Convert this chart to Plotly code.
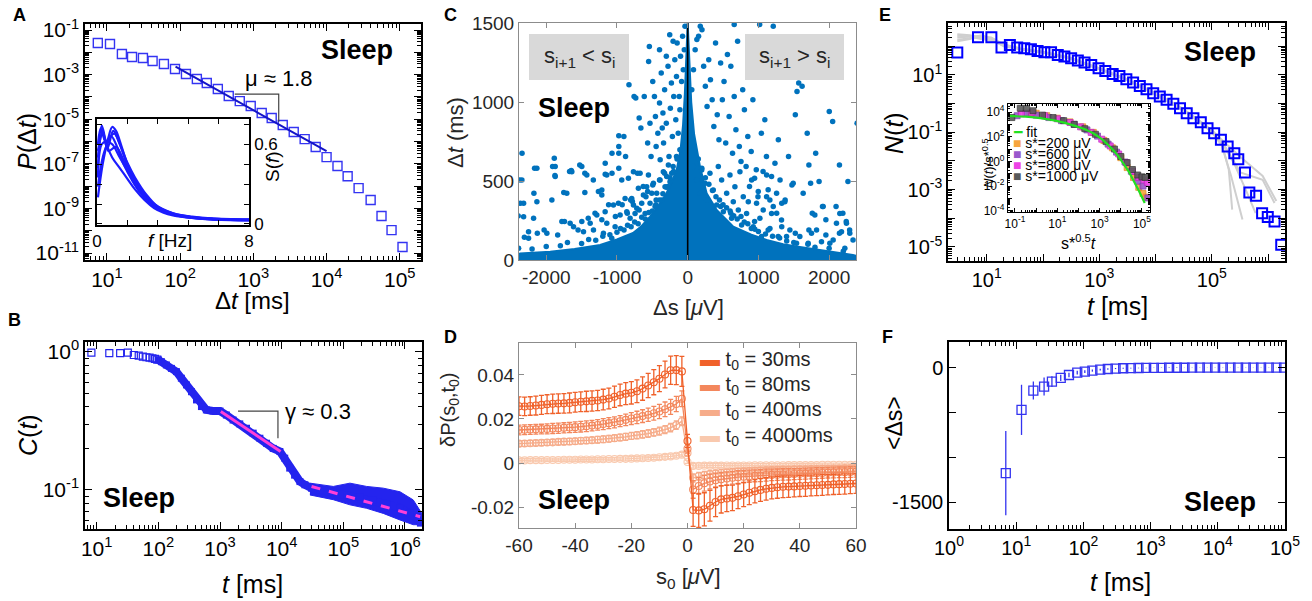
import plotly.graph_objects as go

W, H = 1312, 601
FONT = "Liberation Sans, Arial, Helvetica, DejaVu Sans, sans-serif"


def X(px):
    return px / W


def Y(py):
    return 1 - py / H

# ---------------- Panel A ----------------
a_dt = [7.5, 11, 16, 22, 31, 42, 60, 85, 120, 169, 231, 327, 461, 652, 920, 1300, 1780, 2520,
        3560, 5020, 7100, 10000, 14100, 19400, 27400, 40000, 56300, 77200, 109000]
a_p = [2.61e-2, 2.36e-2, 8.4e-3, 6.15e-3, 5.55e-3, 4.07e-3, 2.99e-3, 1.78e-3, 1.06e-3, 6.35e-4,
       4.2e-4, 2.26e-4, 1.1e-4, 6.5e-5, 3.9e-5, 1.9e-5, 1.13e-5, 5.5e-6, 2.67e-6, 1.29e-6, 5.7e-7,
       2.0e-7, 8.0e-8, 2.8e-8, 8.2e-9, 2.4e-9, 4.6e-10, 1.07e-10, 1.86e-11]
a_fit_dt = [86.5, 10000]
a_fit_p = [2.26e-3, 3.75e-7]
a_tri_dt = [557, 2220, 2220]
a_tri_p = [1.35e-4, 1.35e-4, 7.8e-6]

# inset spectra S(f)
sf_f = [
    [0.05, 0.25, 0.5, 0.8, 1.2, 1.6, 2.0, 2.5, 3.0, 3.5, 4.0, 5.0, 6.0, 7.0, 8.0],
    [0.05, 0.3, 0.6, 0.8, 1.0, 1.3, 1.6, 2.0, 2.5, 3.0, 3.5, 4.0, 5.0, 6.0, 7.0, 8.0],
    [0.05, 0.2, 0.45, 0.75, 1.0, 1.4, 1.8, 2.3, 3.0, 4.0, 5.0, 6.0, 8.0],
    [0.05, 0.3, 0.55, 0.85, 1.1, 1.5, 2.0, 2.5, 3.0, 4.0, 5.0, 6.0, 8.0],
    [0.05, 0.25, 0.5, 0.8, 1.2, 1.6, 2.0, 2.5, 3.0, 4.0, 5.0, 6.0, 8.0],
    [0.05, 0.3, 0.6, 1.0, 1.4, 1.8, 2.3, 3.0, 4.0, 5.0, 6.0, 8.0],
    [0.05, 0.4, 0.9, 1.2, 1.6, 2.0, 2.6, 3.2, 4.0, 5.0, 6.0, 8.0],
]
sf_s = [
    [0.42, 0.74, 0.60, 0.50, 0.42, 0.34, 0.26, 0.18, 0.12, 0.085, 0.065, 0.045, 0.035, 0.030, 0.028],
    [0.20, 0.45, 0.65, 0.73, 0.70, 0.58, 0.45, 0.33, 0.22, 0.14, 0.10, 0.075, 0.050, 0.040, 0.033, 0.030],
    [0.60, 0.72, 0.62, 0.66, 0.60, 0.45, 0.34, 0.23, 0.13, 0.070, 0.048, 0.036, 0.028],
    [0.55, 0.68, 0.57, 0.70, 0.64, 0.48, 0.32, 0.21, 0.14, 0.075, 0.050, 0.038, 0.030],
    [0.35, 0.60, 0.62, 0.60, 0.50, 0.40, 0.30, 0.20, 0.13, 0.070, 0.046, 0.035, 0.027],
    [0.50, 0.70, 0.55, 0.58, 0.48, 0.36, 0.25, 0.15, 0.080, 0.052, 0.040, 0.032],
    [0.28, 0.55, 0.68, 0.60, 0.46, 0.35, 0.22, 0.13, 0.080, 0.055, 0.042, 0.034],
]

# ---------------- Panel B ----------------
b_t_early = [8.2, 16, 24, 32, 40, 48, 56, 64, 72, 80, 88, 96]
b_c_early = [0.99, 0.98, 0.98, 0.99, 0.95, 0.94, 0.925, 0.915, 0.91, 0.90, 0.89, 0.88]
b_t = [100, 112, 135, 163, 196, 236, 286, 345, 415, 500, 600, 770, 1000, 1270, 1630, 2090, 2690,
       3450, 4430, 5680, 7290, 9350, 11200, 13500, 16200, 19800, 23800, 30500, 41500, 68700,
       113000, 186000, 307000, 505000, 835000, 1200000, 1550000, 1780000]
b_c = [0.875, 0.85, 0.805, 0.76, 0.72, 0.645, 0.577, 0.515, 0.449, 0.402, 0.38, 0.373, 0.373,
       0.349, 0.321, 0.301, 0.28, 0.258, 0.237, 0.218, 0.20, 0.19, 0.17, 0.144, 0.128, 0.115,
       0.109, 0.103, 0.10, 0.096, 0.092, 0.0885, 0.0847, 0.079, 0.074, 0.068, 0.0624, 0.0575]
b_band_t = [28700, 68700, 128000, 239000, 445000, 830000, 1360000, 1860000,
            1860000, 1360000, 830000, 445000, 239000, 128000, 68700, 28700]
b_band_c = [0.112, 0.106, 0.112, 0.106, 0.103, 0.097, 0.0847, 0.068,
            0.056, 0.056, 0.0606, 0.0676, 0.0736, 0.078, 0.085, 0.092]
b_fit1_t = [1030, 9600]
b_fit1_c = [0.37, 0.19]
b_fit2_t = [30500, 1760000]
b_fit2_c = [0.106, 0.064]
b_tri_t = [1960, 8700, 8700]
b_tri_c = [0.373, 0.373, 0.237]

# ---------------- Panel C ----------------
c_env_ds = [-2400, -2400, -2368, -1944, -1600, -1238, -1000, -772, -650, -532, -420, -297, -220,
            -155, -100, -66, -40, -20, -8, 0, 10, 25, 50, 90, 130, 174, 268, 410, 645, 900, 1116,
            1350, 1586, 2054, 2336, 2400, 2400]
c_env_dt = [0, 30, 42, 53, 70, 95, 130, 171, 215, 274, 340, 424, 500, 570, 700, 850, 1050, 1250,
            1420, 1500, 1400, 1250, 1000, 800, 700, 590, 422, 316, 211, 160, 127, 100, 82, 53, 32,
            25, 0]
# sparse outliers
c_ds = [-2342, -2376, -2395, -2366, -2390, -2309, -2174, -2165, -1886, -1877, -1910, -1752, -1670,
        -1646, -1526, -1454, -1454, -1334, -1262, -1166, -1166, -1070, -1070, -974, -974, -974,
        -974, -902, -878, -830, -806, -758, -734, -710, -686, -662, -614, -590, -566, -552, -542,
        -533, -518, -494, -470, -456, -446, -422, -398, -398, -389, -374, -360, -350, -341, -326,
        -302, -302, -278, -264, -254, -245, -230, -216, -206, -197, -182, -168, -158, -149, -134,
        -120, -110, -101, -86, -72, -62, -48, -38,
        -2126, -2030, -1838, -1742, -1550, -1406, -1310, -1214, -1118, -1022, -926, -854, -782,
        -686, -629, -566, -494, -446, -398, -326, -278, -206, -158, -110,
        58, 82, 106, 130, 154, 178, 202, 226, 250, 274, 298, 322, 346, 370, 394, 418, 442, 466,
        490, 514, 538, 562, 586, 610, 634, 658, 658, 682, 706, 730, 754, 778, 802, 826, 850, 874,
        898, 922, 946, 970, 994, 1018, 1042, 1066, 1090, 1114, 1138, 1162, 1186, 1210, 1234, 1258,
        1282, 1306, 1330, 1378, 1426, 1474, 1522, 1546, 1570, 1618, 1690, 1714, 1738, 1762, 1810,
        1858, 1906, 1954, 2002, 2050, 2098, 2146, 2194, 2242, 2266, 2290, 2395,
        466, 610, 754, 946, 1138, 1330, 1522, 1714, 1954, 2146, 2338]
c_dt = [676, 507, 279, 359, 74, 144, 423, 581, 644, 535, 592, 427, 560, 566, 602, 549, 427, 507,
        433, 543, 613, 676, 549, 581, 676, 718, 786, 782, 655, 1109, 380, 1035, 1025, 549, 898,
        835, 1035, 401, 740, 1257, 1352, 866, 655, 1130, 1035, 909, 718, 803, 1331, 993, 634, 1183,
        835, 930, 740, 1078, 866, 1289, 1226, 655, 1426, 961, 1120, 782, 1384, 1035, 1268, 887,
        1162, 1373, 803, 1035, 951, 1289, 1130, 1416, 1204, 1331, 1479,
        169, 190, 158, 243, 190, 264, 296, 254, 349, 275, 349, 296, 370, 317, 465, 433, 475, 380,
        507, 549, 465, 592, 655, 697,
        1078, 1204, 1331, 1395, 1416, 1479, 1458, 1226, 1099, 972, 1268, 1141, 1014, 845, 1373,
        919, 761, 1247, 1014, 1130, 740, 1300, 909, 1226, 676, 1490, 1035, 824, 1384, 718, 623,
        1078, 951, 592, 782, 465, 687, 1014, 518, 571, 401, 1490, 803, 560, 887, 655, 444, 380,
        528, 1479, 613, 296, 761, 507, 359, 380, 655, 475, 919, 1067, 1120, 1099, 803, 602, 486,
        296, 676, 497, 338, 254, 940, 877, 338, 602, 296, 243, 497, 190, 866,
        338, 296, 275, 243, 190, 211, 169, 190, 158, 169, 127]
# medium-density zone
c_ds_mid = [-2344, -2320, -2320, -2250, -2250, -2179, -2132, -2132, -1991, -1920, -1873, -1873,
            -1779, -1709, -1662, -1638, -1614, -1497, -1497, -1473, -1426, -1379, -1332, -1285,
            -1214, -1214, -1191, -1167, -1144, -1144, -1073, -1050, -1026, -979, -955, -932, -885,
            -861, -838, -814, -791, -767, -767, -744, -720, -697, -673, -650, -626, -602, -579,
            -555, -532, -508, -485, -461, -438, -391, -367, -344, -320, -297, -273, -250, -226,
            80, 127, 174, 198, 245, 268, 315, 362, 410, 433, 480, 504, 551, 598, 621, 645, 668, 716,
            739, 763, 786, 833, 857, 904, 927, 974, 998, 1021, 1045, 1068, 1116, 1116, 1163, 1186,
            1210, 1257, 1280, 1327, 1374, 1398, 1445, 1492, 1539, 1586, 1633, 1704, 1751, 1798,
            1822, 1892, 1916, 2010, 2057, 2104, 2151, 2175, 2222, 2245, 2292]
c_dt_mid = [506, 359, 274, 179, 137, 264, 580, 369, 169, 380, 591, 528, 243, 422, 232, 559, 211,
            243, 591, 179, 538, 232, 190, 285, 443, 411, 169, 306, 538, 232, 137, 348, 211, 359,
            285, 506, 390, 306, 517, 264, 390, 559, 348, 295, 327, 454, 549, 359, 411, 295, 464,
            538, 359, 422, 485, 338, 422, 506, 380, 559, 464, 528, 601, 496, 549,
            591, 506, 422, 570, 485, 380, 549, 443, 348, 591, 506, 306, 422, 538, 264, 369, 464,
            317, 559, 222, 401, 295, 369, 506, 211, 359, 433, 264, 148, 317, 538, 401, 200, 295,
            338, 422, 148, 253, 369, 148, 190, 485, 106, 148, 422, 106, 169, 285, 190, 116, 338,
            106, 127, 232, 295, 179, 74, 232, 169]
# points just above the dense core
c_ds_edge = [-2200, -2000, -1800, -1700, -1500, -1400, -1300, -1200, -1100, -1000, -950, -900,
             -850, -800, -750, -700, -650, -600, -550, -500, -450, -400, -350, -300, -250, -200,
             -150, 2200, 2000, 1800, 1700, 1500, 1400, 1300, 1200, 1100, 1000, 950, 900, 850, 800,
             700, 650, 600, 550, 500, 450, 400, 350, 300, 250, 200, 150]
c_dt_edge = [70, 85, 90, 110, 105, 130, 125, 150, 160, 175, 200, 190, 220, 210, 240, 230, 270, 260,
             300, 310, 350, 380, 420, 460, 520, 560, 640, 55, 75, 80, 100, 110, 120, 140, 150, 165,
             180, 195, 200, 230, 240, 260, 280, 310, 330, 350, 380, 400, 440, 480, 520, 580, 640]
c_zero_ds = [0, 0]
c_zero_dt = [0, 1500]

# ---------------- Panel D ----------------
d_s0 = [-60, -58, -56, -54, -52, -50, -48, -46, -44, -42, -40, -38, -36, -34, -32, -30, -28, -26,
        -24, -22, -20, -18, -16, -14, -12, -10, -8, -6, -4, -2, 0, 2, 4, 6, 8, 10, 12, 14, 16, 18,
        20, 22, 24, 26, 28, 30, 32, 34, 36, 38, 40, 42, 44, 46, 48, 50, 52, 54, 56, 58, 60]
d_30 = [.0258, .0257, .0259, .0261, .0264, .0267, .0269, .0270, .0271, .0273, .0276, .0278, .0280,
        .0282, .0284, .0288, .0293, .0301, .0309, .0315, .0319, .0326, .0338, .0352, .0367, .0383,
        .0402, .0421, .0422, .0416, .0100, -.0213, -.0215, -.0210, -.0194, -.0177, -.0165, -.0161,
        -.0158, -.0151, -.0143, -.0135, -.0128, -.0122, -.0117, -.0113, -.0110, -.0108, -.0107,
        -.0106, -.0104, -.0103, -.0102, -.0101, -.0100, -.0099, -.0097, -.0096, -.0095, -.0094,
        -.0093]
d_30_err = [.0042, .0042, .0042, .0043, .0043, .0043, .0044, .0044, .0044, .0045, .0045, .0045,
            .0046, .0046, .0046, .0047, .0047, .0048, .0049, .0050, .0051, .0052, .0053, .0055,
            .0057, .0059, .0061, .0064, .0066, .0068, .0030, .0075, .0077, .0075, .0070, .0066,
            .0062, .0060, .0058, .0056, .0055, .0054, .0053, .0052, .0051, .0050, .0050, .0049,
            .0049, .0048, .0048, .0048, .0047, .0047, .0047, .0046, .0046, .0046, .0046, .0045,
            .0045]
d_80 = [.0150, .0151, .0152, .0153, .0154, .0155, .0157, .0158, .0160, .0161, .0163, .0165, .0167,
        .0170, .0173, .0177, .0181, .0185, .0190, .0196, .0202, .0207, .0213, .0219, .0226, .0234,
        .0244, .0255, .0268, .0292, .0065, -.0120, -.0104, -.0092, -.0084, -.0078, -.0074, -.0070,
        -.0067, -.0064, -.0062, -.0060, -.0058, -.0057, -.0055, -.0054, -.0053, -.0052, -.0051,
        -.0050, -.0049, -.0048, -.0047, -.0046, -.0045, -.0044, -.0043, -.0042, -.0042, -.0041,
        -.0040]
d_80_err = [.0022, .0022, .0022, .0022, .0022, .0023, .0023, .0023, .0023, .0023, .0024, .0024,
            .0024, .0024, .0024, .0025, .0025, .0025, .0025, .0026, .0027, .0028, .0029, .0030,
            .0031, .0032, .0033, .0034, .0035, .0036, .0020, .0040, .0038, .0036, .0034, .0032,
            .0031, .0030, .0029, .0029, .0028, .0028, .0027, .0027, .0027, .0026, .0026, .0026,
            .0026, .0025, .0025, .0025, .0025, .0025, .0024, .0024, .0024, .0024, .0024, .0024,
            .0024]
d_400 = [.0088, .0089, .0090, .0091, .0092, .0093, .0094, .0096, .0097, .0098, .0099, .0101, .0102,
         .0104, .0106, .0108, .0110, .0113, .0116, .0119, .0123, .0126, .0130, .0134, .0139, .0145,
         .0152, .0161, .0172, .0190, .0045, -.0068, -.0060, -.0055, -.0051, -.0048, -.0045, -.0043,
         -.0041, -.0039, -.0038, -.0036, -.0035, -.0034, -.0033, -.0032, -.0031, -.0030, -.0030,
         -.0029, -.0028, -.0028, -.0027, -.0027, -.0026, -.0026, -.0025, -.0025, -.0024, -.0024,
         -.0023]
d_400_err = [.0013, .0013, .0013, .0013, .0013, .0013, .0013, .0014, .0014, .0014, .0014, .0014,
             .0014, .0014, .0015, .0015, .0015, .0015, .0015, .0016, .0016, .0016, .0017, .0017,
             .0017, .0018, .0018, .0019, .0019, .0020, .0012, .0019, .0018, .0017, .0017, .0016,
             .0016, .0015, .0015, .0015, .0015, .0014, .0014, .0014, .0014, .0014, .0014, .0013,
             .0013, .0013, .0013, .0013, .0013, .0013, .0013, .0013, .0013, .0013, .0013, .0013,
             .0013]
d_4000 = [.0012, .0012, .0013, .0013, .0013, .0014, .0014, .0014, .0015, .0015, .0015, .0016, .0016,
          .0016, .0017, .0017, .0018, .0018, .0019, .0019, .0020, .0021, .0022, .0023, .0024, .0026,
          .0028, .0030, .0033, .0038, .0005, -.0013, -.0013, -.0012, -.0012, -.0012, -.0012, -.0011,
          -.0011, -.0011, -.0011, -.0011, -.0010, -.0010, -.0010, -.0010, -.0010, -.0010, -.0009,
          -.0009, -.0009, -.0009, -.0009, -.0009, -.0008, -.0008, -.0008, -.0008, -.0008, -.0008,
          -.0008]
d_4000_err = [.0008, .0008, .0008, .0008, .0008, .0008, .0008, .0008, .0008, .0008, .0008, .0008,
              .0008, .0008, .0008, .0008, .0008, .0008, .0008, .0009, .0009, .0009, .0009, .0009,
              .0009, .0009, .0010, .0010, .0010, .0010, .0007, .0010, .0009, .0009, .0009, .0009,
              .0009, .0008, .0008, .0008, .0008, .0008, .0008, .0008, .0008, .0008, .0008, .0008,
              .0008, .0008, .0008, .0008, .0008, .0008, .0008, .0008, .0008, .0008, .0008, .0008,
              .0008]
d_labels = ["t<sub>0</sub> = 30ms", "t<sub>0</sub> = 80ms", "t<sub>0</sub> = 400ms", "t<sub>0</sub> = 4000ms"]
d_colors = ["#f0612a", "#f3875c", "#f6ac8a", "#f9c9ae"]

# ---------------- Panel E ----------------
e_t = [3.0, 7.0, 12.1, 18.3, 25.8, 34.8, 46.5, 61, 80, 106, 139, 183, 240, 316, 416, 547, 719, 972,
       1280, 1730, 2280, 3030, 3990, 5250, 6900, 9080, 11900, 15700, 20700, 27200, 35800, 47100,
       63700, 83800, 110000, 145000, 191000, 251000, 295000, 388000, 464000, 611000, 782000,
       986000, 1300000, 1710000]
e_n = [60, 204, 204, 89.6, 111, 89.6, 85, 78, 68.5, 61.6, 61.6, 49.8, 43.5, 38.1, 31.6, 26.9, 22.3,
       17.1, 13.8, 10.8, 9.2, 7.06, 5.41, 4.14, 3.17, 2.3, 1.76, 1.35, 0.977, 0.69, 0.462, 0.309,
       0.224, 0.139, 0.0928, 0.0543, 0.0318, 0.0187, 0.0115, 0.00395, 7.95e-4, 6.08e-4, 1.51e-4,
       1.1e-4, 7.76e-5, 1.19e-5]
e_gray_t = [
    [3, 5, 8, 12, 20, 40, 100, 300, 1000, 3000, 10000, 30000, 60000, 100000, 150000, 200000, 230000],
    [3, 5, 8, 12, 20, 40, 100, 300, 1000, 3000, 10000, 30000, 60000, 100000, 150000, 220000, 350000],
    [3, 5, 8, 12, 20, 40, 100, 300, 1000, 3000, 10000, 30000, 60000, 100000, 150000, 320000, 800000, 1300000],
    [3, 5, 8, 12, 20, 40, 100, 300, 1000, 3000, 10000, 30000, 60000, 100000, 150000, 250000, 400000, 600000],
    [3, 5, 8, 12, 20, 40, 100, 300, 1000, 3000, 10000, 30000, 60000, 100000, 150000, 350000, 800000, 1400000],
]
e_gray_n = [
    [260, 240, 200, 150, 110, 80, 62, 39, 16.5, 7.1, 2.2, 0.65, 0.25, 0.11, 0.04, 0.005, 0.0002],
    [200, 210, 230, 180, 100, 78, 60, 37, 16, 6.8, 2.0, 0.6, 0.23, 0.1, 0.035, 0.003, 0.00009],
    [170, 190, 210, 200, 115, 84, 64, 40, 17, 7.3, 2.3, 0.68, 0.26, 0.12, 0.05, 0.004, 0.0022, 0.00034],
    [230, 220, 180, 160, 105, 80, 61, 38, 16.2, 7.0, 2.1, 0.62, 0.24, 0.105, 0.045, 0.008, 0.001, 0.00015],
    [150, 180, 240, 190, 112, 82, 63, 39.5, 16.8, 7.2, 2.25, 0.66, 0.25, 0.115, 0.055, 0.012, 0.003, 0.0004],
]
# inset: scaled N(t)
ei_fit_x = [0.0479, 0.316, 1, 3.16, 13.2, 63.1, 200, 490, 1259, 3020, 6310, 12900, 22400, 38000,
            63100, 95500, 135000]
ei_fit_y = [4790, 4170, 3550, 2630, 1660, 794, 398, 191, 63.1, 15.8, 3.98, 0.724, 0.178, 0.0331,
            0.0063, 0.00148, 0.000427]
ei_x = {
    "200": [0.5, 1, 3.16, 10, 39.8, 158, 501, 1585, 3981, 10000, 20000, 39800, 70800, 112000, 158000],
    "600": [0.126, 0.316, 1, 3.98, 15.8, 63, 251, 794, 2512, 6310, 15850, 31600, 63100, 112000, 190000],
    "800": [0.2, 0.63, 2.51, 10, 39.8, 126, 398, 1259, 3162, 7943, 17800, 35500, 70800, 126000, 178000],
    "1000": [0.0708, 0.178, 0.355, 0.708, 2.0, 6.3, 20, 63, 200, 631, 2000, 5000, 10000, 20000,
             35500, 63000, 100000, 141000],
}
ei_y = {
    "200": [7940, 7940, 5010, 3160, 1585, 631, 224, 50, 12.6, 2.0, 0.316, 0.05, 0.0079, 0.0025, 0.00126],
    "600": [5010, 7940, 5620, 3550, 2000, 1000, 355, 112, 25.1, 5.62, 0.89, 0.158, 0.025, 0.01, 0.0011],
    "800": [7080, 8910, 5010, 2820, 1413, 631, 224, 63, 17.8, 3.98, 0.79, 0.158, 0.05, 0.0316, 0.02],
    "1000": [3550, 20000, 20000, 12600, 5620, 3550, 2000, 1000, 447, 158, 40, 10, 2.5, 0.79, 0.22,
             0.079, 0.056, 0.05],
}
ei_colors = {"200": "#f7a63e", "600": "#9a58cc", "800": "#ee44e6", "1000": "#5a5a5a"}
ei_edges = {"200": "#e08a20", "600": "#7a3aaa", "800": "#c020c0", "1000": "#333333"}

# ---------------- Panel F ----------------
f_t = [7, 12, 18, 26, 34, 46, 61, 81, 105, 136, 178, 231, 301, 391, 508, 661, 859, 1117, 1452, 1888,
       2455, 3192, 4150, 5395, 7015, 9120, 11860, 15420, 20040, 26060, 33880, 44060, 57280, 74470,
       96830]
f_m = [-1176, -471, -256, -211, -156, -115, -82, -56, -45, -33, -22, -15, -10, -7, -5, -4, -3, -2,
       -2, -1, -1, -1, 0, 0, 0, 0, 0, 0, 0, 0, 0, 0, 0, 0, 0]
f_e = [470, 280, 100, 100, 60, 35, 25, 20, 15, 12, 10, 8, 6, 5, 4, 3, 3, 2, 2, 2, 2, 1, 1, 1, 1, 1,
       1, 1, 1, 1, 1, 1, 1, 1, 1]

# =============================================================
fig = go.Figure()

BLUE_A = "#3434f2"
# A main
fig.add_trace(go.Scatter(x=a_dt, y=a_p, mode="markers", xaxis="x", yaxis="y",
                         marker=dict(symbol="square-open", size=9, color=BLUE_A, line=dict(width=1.4))))
fig.add_trace(go.Scatter(x=a_fit_dt, y=a_fit_p, mode="lines", xaxis="x", yaxis="y",
                         line=dict(color="#1414c8", width=2)))
fig.add_trace(go.Scatter(x=a_tri_dt, y=a_tri_p, mode="lines", xaxis="x", yaxis="y",
                         line=dict(color="#444444", width=1.2)))
# A inset
for fx, sy in zip(sf_f, sf_s):
    fig.add_trace(go.Scatter(x=fx, y=sy, mode="lines", xaxis="x2", yaxis="y2",
                             line=dict(color="#1c1cff", width=2.2, shape="spline")))

# B
BLUE_B = "#2424ee"
fig.add_trace(go.Scatter(x=b_band_t, y=b_band_c, mode="lines", fill="toself", fillcolor=BLUE_B,
                         line=dict(width=1, color=BLUE_B), xaxis="x3", yaxis="y3"))
fig.add_trace(go.Scatter(x=b_t, y=b_c, mode="lines+markers", xaxis="x3", yaxis="y3",
                         line=dict(color=BLUE_B, width=8),
                         marker=dict(symbol="square", size=7, color=BLUE_B)))
fig.add_trace(go.Scatter(x=b_t_early, y=b_c_early, mode="markers", xaxis="x3", yaxis="y3",
                         marker=dict(symbol="square-open", size=7, color=BLUE_B, line=dict(width=1.2))))
fig.add_trace(go.Scatter(x=b_fit1_t, y=b_fit1_c, mode="lines", xaxis="x3", yaxis="y3",
                         line=dict(color="#ff3fd8", width=3)))
fig.add_trace(go.Scatter(x=b_fit2_t, y=b_fit2_c, mode="lines", xaxis="x3", yaxis="y3",
                         line=dict(color="#ff3fd8", width=3, dash="dash")))
fig.add_trace(go.Scatter(x=b_tri_t, y=b_tri_c, mode="lines", xaxis="x3", yaxis="y3",
                         line=dict(color="#444444", width=1.2)))

# C
MBLUE = "#0072bd"
fig.add_trace(go.Scatter(x=c_env_ds, y=c_env_dt, mode="lines", fill="toself", fillcolor=MBLUE,
                         line=dict(width=2, color=MBLUE), xaxis="x4", yaxis="y4"))
fig.add_trace(go.Scatter(x=c_ds + c_ds_mid + c_ds_edge, y=c_dt + c_dt_mid + c_dt_edge, mode="markers",
                         xaxis="x4", yaxis="y4", marker=dict(size=5.5, color=MBLUE)))
fig.add_trace(go.Scatter(x=c_zero_ds, y=c_zero_dt, mode="lines", xaxis="x4", yaxis="y4",
                         line=dict(color="black", width=1.6)))

# D
d_series = [(d_4000, d_4000_err, 3), (d_400, d_400_err, 2), (d_80, d_80_err, 1), (d_30, d_30_err, 0)]
for yv, ev, k in d_series:
    fig.add_trace(go.Scatter(x=d_s0, y=yv, mode="lines+markers", xaxis="x5", yaxis="y5",
                             line=dict(color=d_colors[k], width=1.3),
                             marker=dict(symbol="circle-open", size=7, color=d_colors[k], line=dict(width=1.1)),
                             error_y=dict(type="data", array=ev, color=d_colors[k], thickness=1.3, width=2.5)))

# E main
for gt, gn in zip(e_gray_t, e_gray_n):
    fig.add_trace(go.Scatter(x=gt, y=gn, mode="lines", xaxis="x6", yaxis="y6",
                             line=dict(color="#cfcfcf", width=2)))
fig.add_trace(go.Scatter(x=e_t, y=e_n, mode="markers", xaxis="x6", yaxis="y6",
                         marker=dict(symbol="square-open", size=10, color="#0000ff", line=dict(width=2))))
# E inset
for key in ["200", "600", "800", "1000"]:
    fig.add_trace(go.Scatter(x=ei_x[key], y=ei_y[key], mode="markers", xaxis="x7", yaxis="y7",
                             marker=dict(symbol="square", size=6, color=ei_colors[key], opacity=0.9,
                                         line=dict(width=0.8, color=ei_edges[key]))))
fig.add_trace(go.Scatter(x=ei_fit_x, y=ei_fit_y, mode="lines", xaxis="x7", yaxis="y7",
                         line=dict(color="#22e022", width=2.2, shape="spline")))

# F
fig.add_trace(go.Scatter(x=f_t, y=f_m, mode="markers", xaxis="x8", yaxis="y8",
                         marker=dict(symbol="square-open", size=9, color="#3333f0", line=dict(width=1.3)),
                         error_y=dict(type="data", array=f_e, color="#3333f0", thickness=1.3, width=0)))

# =============================================================
def sup(e):
    return "10<sup>%d</sup>" % e


def logaxis(lo_e, hi_e, labeled, rng, dom, anchor, fs=20, tl=7, mtl=4, **kw):
    tv = [10.0 ** e for e in range(lo_e, hi_e + 1)]
    tt = [sup(e) if e in labeled else "" for e in range(lo_e, hi_e + 1)]
    mv = [m * 10.0 ** e for e in range(lo_e - 1, hi_e + 1) for m in range(2, 10)]
    d = dict(type="log", range=rng, domain=dom, anchor=anchor, tickmode="array", tickvals=tv,
             ticktext=tt, showgrid=False, zeroline=False, showline=True, mirror="ticks",
             ticks="inside", linecolor="black", linewidth=1.5, tickcolor="black", tickwidth=1.2,
             ticklen=tl, automargin=False, tickfont=dict(family=FONT, size=fs, color="black"),
             minor=dict(tickmode="array", tickvals=mv, ticks="inside", ticklen=mtl,
                        tickcolor="black", tickwidth=1, showgrid=False))
    d.update(kw)
    return d


def linaxis(rng, dom, anchor, tv, tt, fs=20, color="black", lc="black", lw=1.5, tl=7, **kw):
    d = dict(type="linear", range=rng, domain=dom, anchor=anchor, tickmode="array", tickvals=tv,
             ticktext=tt, showgrid=False, zeroline=False, showline=True, mirror="ticks",
             ticks="inside", linecolor=lc, linewidth=lw, tickcolor=lc, automargin=False,
             tickwidth=1.2, ticklen=tl, tickfont=dict(family=FONT, size=fs, color=color))
    d.update(kw)
    return d


def xd(a, b):
    return [a / W, b / W]


def yd(top, bot):
    return [1 - bot / H, 1 - top / H]


layout = dict(
    width=W, height=H, margin=dict(l=0, r=0, t=0, b=0, pad=0), autosize=False,
    paper_bgcolor="white", plot_bgcolor="white", showlegend=False,
    font=dict(family=FONT, color="black"),
    # A
    xaxis=logaxis(1, 5, [1, 2, 3, 4, 5], [0.70, 5.29], xd(85, 421), "y", fs=21),
    yaxis=logaxis(-11, -1, [-1, -3, -5, -7, -9, -11], [-11.31, -0.73], yd(24, 260), "x", fs=21),
    # A inset
    xaxis2=linaxis([0, 8], xd(97, 249), "y2", [0, 1.6, 3.2, 4.8, 6.4, 8], ["0", "", "", "", "", "8"],
                   fs=17, tl=5),
    yaxis2=linaxis([-0.008, 0.79], yd(119, 225), "x2", [0, 0.15, 0.3, 0.45, 0.6, 0.75],
                   ["0", "", "", "", "0.6", ""], fs=17, tl=5, side="right"),
    # B
    xaxis3=logaxis(1, 6, [1, 2, 3, 4, 5, 6], [0.81, 6.276], xd(85, 422), "y3", fs=21),
    yaxis3=logaxis(-1, 0, [-1, 0], [-1.283, 0.072], yd(342, 529), "x3", fs=21),
    # C
    xaxis4=linaxis([-2385, 2380], xd(519, 856), "y4", [-2000, -1000, 0, 1000, 2000],
                   ["-2000", "-1000", "0", "1000", "2000"], fs=19, color="#262626", lc="#8c8c8c",
                   lw=1, tl=5),
    yaxis4=linaxis([0, 1500], yd(23, 260), "x4", [0, 500, 1000, 1500], ["0", "500", "1000", "1500"],
                   fs=19, color="#262626", lc="#8c8c8c", lw=1, tl=5),
    # D
    xaxis5=linaxis([-60, 60], xd(519, 856), "y5", [-60, -40, -20, 0, 20, 40, 60],
                   ["-60", "-40", "-20", "0", "20", "40", "60"], fs=19, color="#262626",
                   lc="#8c8c8c", lw=1, tl=5),
    yaxis5=linaxis([-0.0295, 0.0545], yd(343, 528), "x5", [-0.02, 0, 0.02, 0.04],
                   ["-0.02", "0", "0.02", "0.04"], fs=19, color="#262626", lc="#8c8c8c", lw=1, tl=5),
    # E
    xaxis6=logaxis(0, 6, [1, 3, 5], [0.312, 6.30], xd(948, 1285), "y6", fs=20),
    yaxis6=logaxis(-5, 2, [1, -1, -3, -5], [-5.49, 2.81], yd(23, 261), "x6", fs=20),
    # E inset
    xaxis7=logaxis(-1, 5, [-1, 1, 3, 5], [-1.33, 5.38], xd(1008, 1150), "y7", fs=12, tl=4, mtl=2,
                   linewidth=1.2),
    yaxis7=logaxis(-4, 4, [-4, -2, 0, 2, 4], [-4.1, 4.65], yd(104, 212), "x7", fs=12, tl=4, mtl=2,
                   linewidth=1.2),
    # F
    xaxis8=logaxis(0, 5, [0, 1, 2, 3, 4, 5], [0, 5], xd(949, 1285), "y8", fs=20),
    yaxis8=linaxis([-1800, 286], yd(342, 529), "x8", [0, -500, -1000, -1500], ["0", "", "", "-1500"],
                   fs=20),
)
fig.update_layout(**layout)

ann = []


def txt(px, py, text, size=22, xa="center", ya="middle", angle=0, color="black", **kw):
    d = dict(x=X(px), y=Y(py), xref="paper", yref="paper", text=text, showarrow=False,
             xanchor=xa, yanchor=ya, textangle=angle,
             font=dict(family=FONT, size=size, color=color))
    d.update(kw)
    ann.append(d)


# panel letters
for L, px, py in [("A", 19, 15), ("B", 14, 320), ("C", 450, 15), ("D", 450, 337), ("E", 885, 15),
                  ("F", 887, 337)]:
    txt(px, py, "<b>%s</b>" % L, size=18)

# axis titles
txt(252, 300, "Δ<i>t</i> [ms]", size=24)
txt(27, 142, "<i>P</i>(Δ<i>t</i>)", size=25, angle=-90)
txt(252, 584, "<i>t</i> [ms]", size=25)
txt(28, 435, "<i>C</i>(<i>t</i>)", size=25, angle=-90)
txt(688, 307, "Δs [<i>μ</i>V]", size=22, color="#262626")
txt(455, 133, "Δ<i>t</i> (ms)", size=22, angle=-90, color="#262626")
txt(688, 578, "s<sub>0</sub> [<i>μ</i>V]", size=22, color="#262626")
txt(450, 410, "δP(s<sub>0</sub>,t<sub>0</sub>)", size=20, angle=-90, color="#262626")
txt(1117, 306, "<i>t</i> [ms]", size=25)
txt(894, 133, "<i>N</i>(<i>t</i>)", size=25, angle=-90)
txt(1120, 582, "<i>t</i> [ms]", size=25)
txt(894, 423, "&lt;Δs&gt;", size=23, angle=-90)
# inset titles
txt(170, 240, "<i>f</i> [Hz]", size=19)
txt(273, 167, "S(<i>f</i>)", size=19, angle=-90)
txt(988, 163, "<i>N</i>(<i>t</i>)/s*<sup>0.5</sup>", size=13, angle=-90)
txt(1078, 242, "s*<sup>0.5</sup><i>t</i>", size=16)

# Sleep labels
for px, py in [(357, 50), (139, 498), (574, 108), (574, 500), (1220, 52), (1220, 502)]:
    txt(px, py, "<b>Sleep</b>", size=27)

# fit exponents
txt(243, 78, "μ ≈ 1.8", size=22, xa="left")
txt(283, 412, "γ ≈ 0.3", size=22, xa="left")

# C boxes
txt(579, 57, "s<sub>i+1</sub> &lt; s<sub>i</sub>", size=22, color="#262626")
txt(794.5, 57, "s<sub>i+1</sub> &gt; s<sub>i</sub>", size=22, color="#262626")

# D legend
for k, py in enumerate([360, 385, 411, 436]):
    txt(698, py, '<span style="color:%s">▬</span> %s' % (d_colors[k], d_labels[k]), size=20,
        xa="left", color="#262626")

# E inset legend
txt(1011, 131.5, '<span style="color:#22e022">━</span> fit', size=14, xa="left")
rows = [("200", 143), ("600", 154), ("800", 165), ("1000", 176)]
for key, py in rows:
    txt(1011, py, '<span style="color:%s">■</span> s*=%s μV' % (ei_colors[key], key), size=14, xa="left")

shapes = [
    dict(type="rect", xref="paper", yref="paper", x0=X(529), x1=X(629), y0=Y(80), y1=Y(34),
         fillcolor="#d9d9d9", line=dict(width=0), layer="above"),
    dict(type="rect", xref="paper", yref="paper", x0=X(745), x1=X(844), y0=Y(80), y1=Y(34),
         fillcolor="#d9d9d9", line=dict(width=0), layer="above"),
]
fig.update_layout(annotations=ann, shapes=shapes)

fig.write_html("out.html", config={"displayModeBar": False},
               post_script="document.body.style.margin='0px';document.body.style.padding='0px';")
